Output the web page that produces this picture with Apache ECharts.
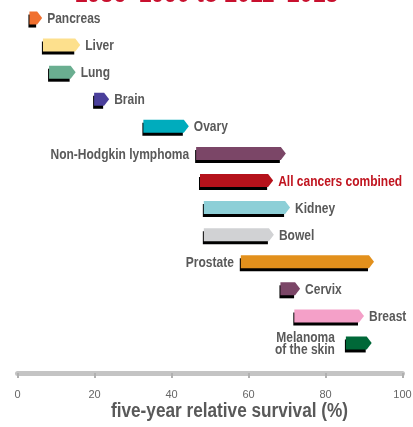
<!DOCTYPE html>
<html>
<head>
<meta charset="utf-8">
<script src="https://cdn.jsdelivr.net/npm/echarts@6/dist/echarts.min.js"></script>
<style>
  html, body { margin: 0; padding: 0; background: #fff; }
  #chart { width: 413px; height: 427px; }
</style>
</head>
<body>
<div id="chart"></div>
<script>
// cancer types, top to bottom
const cancers = ["Pancreas", "Liver", "Lung", "Brain", "Ovary", "Non-Hodgkin lymphoma",
  "All cancers combined", "Kidney", "Bowel", "Prostate", "Cervix", "Breast", "Melanoma of the skin"];
// five-year relative survival (%) in the earlier and later period
const earlier = [3.1, 6.6, 8.2, 19.9, 32.7, 46.4, 47.4, 48.4, 48.4, 58.0, 68.3, 71.9, 85.3];
const later = [6.4, 16.3, 15.1, 23.8, 44.5, 69.7, 66.4, 70.8, 66.6, 92.6, 73.4, 90.0, 92.0];
const xTicks = [0, 20, 40, 60, 80, 100];

const colors = ["#f0702f", "#fde08d", "#6aae90", "#4a3f9b", "#00acbd", "#7b4667",
  "#b5121b", "#8dcfd7", "#d1d2d4", "#e2901c", "#7b4667", "#f4a0c8", "#006838"];
const labelLeft = ["Non-Hodgkin lymphoma", "Prostate", "Melanoma of the skin"];
const textGrey = "#595959";
const font = "'Liberation Sans', Arial, sans-serif";
const narrow = 0.8; // squeeze text to look like a condensed face

const chart = echarts.init(document.getElementById("chart"));

const renderArrow = (params, api) => {
  const i = api.value(0);
  const p0 = api.coord([api.value(1), i]);
  const p1 = api.coord([api.value(2), i]);
  const h = 13, head = 5;
  const top = p0[1] - h / 2;
  const bodyEnd = p1[0] - head;
  const name = cancers[i];
  const isAll = name === "All cancers combined";
  let text;
  if (labelLeft.includes(name)) {
    const gap = name.startsWith("Melanoma") ? 11 : 7;
    text = {
      type: "text", x: p0[0] - gap, y: p0[1] + 1, scaleX: narrow,
      style: {
        x: 0, y: 0,
        text: name === "Melanoma of the skin" ? "Melanoma\nof the skin" : name,
        align: "right", verticalAlign: "middle",
        font: "bold 15px " + font, lineHeight: 12, fill: textGrey
      }
    };
  } else {
    text = {
      type: "text", x: p1[0] + 5, y: p0[1] + 1, scaleX: narrow,
      style: {
        x: 0, y: 0, text: name,
        align: "left", verticalAlign: "middle",
        font: "bold 15px " + font, fill: isAll ? "#c0141f" : textGrey
      }
    };
  }
  return {
    type: "group",
    children: [
      { type: "rect", shape: { x: p0[0] - 1, y: top + 3, width: bodyEnd - p0[0], height: h },
        style: { fill: "#000" } },
      { type: "polygon", shape: { points: [
          [p0[0], top], [bodyEnd, top], [p1[0], p0[1]], [bodyEnd, top + h], [p0[0], top + h]] },
        style: { fill: colors[i] } },
      text
    ]
  };
};

chart.setOption({
  animation: false,
  title: {
    text: "1986\u20131990 to 2011\u20132015",
    left: "center", top: -21,
    textStyle: { color: "#c8102e", fontSize: 23, fontWeight: "bold", fontFamily: font }
  },
  grid: { left: 17.5, right: 10.5, top: 4.5, bottom: 70.5, containLabel: false,
    outerBoundsMode: "none" },
  xAxis: {
    type: "value", min: 0, max: 100, interval: 20, offset: 16.5,
    axisLine: { show: true, lineStyle: { color: "#c4c4c4", width: 5 } },
    axisTick: { show: true, length: 5, lineStyle: { color: "#b0b0b0", width: 2 } },
    axisLabel: { color: "#666", fontSize: 11, fontFamily: font, margin: 16,
      customValues: xTicks },
    splitLine: { show: false }
  },
  yAxis: {
    type: "category", data: cancers, inverse: true, show: false
  },
  graphic: [{
    type: "text", x: 229.5, y: 411, scaleX: 0.86,
    style: {
      text: "five-year relative survival (%)", x: 0, y: 0,
      align: "center", verticalAlign: "middle",
      font: "bold 20px " + font, fill: textGrey
    }
  }],
  series: [{
    type: "custom",
    renderItem: renderArrow,
    encode: { x: [1, 2], y: 0 },
    data: cancers.map((c, i) => [i, earlier[i], later[i]])
  }]
});
</script>
</body>
</html>
